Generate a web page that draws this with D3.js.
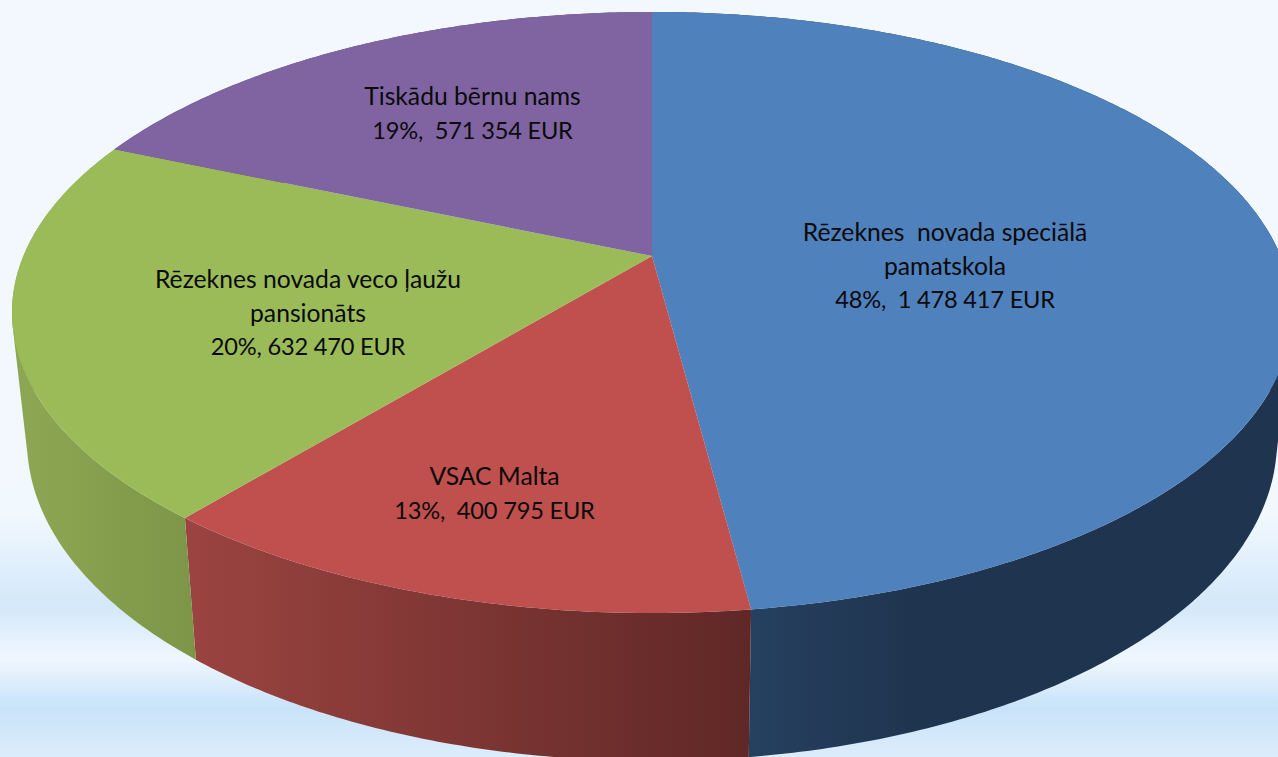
<!DOCTYPE html>
<html>
<head>
<meta charset="utf-8">
<script src="https://cdn.jsdelivr.net/npm/d3@7"></script>
<style>
html, body { margin: 0; padding: 0; overflow: hidden; }
svg { display: block; }
text { font-family: Lato, "Open Sans", sans-serif; font-size: 24.7px; fill: #0a0a0a; white-space: pre; }
.summa { font-size: 23.6px; letter-spacing: -0.2px; }
</style>
</head>
<body>
<div id="grafico"></div>
<script>
// Dati
const categorijas = ["Rēzeknes novada speciālā pamatskola", "VSAC Malta", "Rēzeknes novada veco ļaužu pansionāts", "Tiskādu bērnu nams"];
const vertibas = [1478417, 400795, 632470, 571354];
const rindas = [
    ["Rēzeknes  novada speciālā", "pamatskola", "48%,  1 478 417 EUR"],
    ["VSAC Malta", "13%,  400 795 EUR"],
    ["Rēzeknes novada veco ļaužu", "pansionāts", "20%, 632 470 EUR"],
    ["Tiskādu bērnu nams", "19%,  571 354 EUR"]
];

// Izskats
const krasasVirsma = ["#4f81bd", "#c0504d", "#9bbb59", "#8064a2"];
const krasasSans = [["#264060", "#1f344e"], ["#9a4340", "#5f2826"], ["#8ca653", "#7c9547"], ["#5f4a7a", "#5f4a7a"]];
const etiketesX = [945, 494.5, 308, 472.5];
const etiketesY = [241, 485, 288, 105];
const rindstarpa = 33.5;

const platums = 1278;
const augstums = 757;

const svg = d3.select("#grafico")
    .append("svg")
    .attr("width", platums)
    .attr("height", augstums);

const defs = svg.append("defs");

// Fons ar gaišām zilām joslām apakšā
const fons = defs.append("linearGradient")
    .attr("id", "fons")
    .attr("x1", 0).attr("y1", 0).attr("x2", 0).attr("y2", 1);
[[0, "#f3f8ff"], [0.68, "#f1f8fe"], [0.8, "#d3e8fa"], [0.87, "#f0f7fe"], [0.935, "#c8e3f9"], [1, "#dcedfb"]]
    .forEach(d => fons.append("stop").attr("offset", d[0]).attr("stop-color", d[1]));

svg.append("rect")
    .attr("width", platums)
    .attr("height", augstums)
    .attr("fill", "url(#fons)");

// Perspektīva: diska punkts (u, v) uz ekrāna
const centrsX = 652, centrsY = 256;
const persp = -0.188;

function virsma(a) {
    const u = Math.sin(a), v = -Math.cos(a);
    const w = 1 + persp * v;
    return [centrsX + 628.6 * u / w, (241.8 * v + centrsY) / w];
}

// Apakšējais disks: elipse ar centru (652, 441), rx 625, ry 320
function apaksa(a) {
    const u = Math.sin(a), v = -Math.cos(a);
    const w = 1 + persp * v;
    return [centrsX + 613.8 * u / w, (237.1 * v + 380.8) / w];
}

function loks(f, a0, a1) {
    const n = Math.max(2, Math.ceil(Math.abs(a1 - a0) / 0.01));
    return d3.range(n + 1).map(i => f(a0 + (a1 - a0) * i / n));
}

// Siena no mazām četrstūru joslām, lai aizpildītu arī malu starp diskiem
function siena(d) {
    const aug = loks(virsma, d.startAngle, d.endAngle);
    const apa = loks(apaksa, d.startAngle, d.endAngle);
    return d3.range(aug.length - 1).map(i => {
        const q = [aug[i], aug[i + 1], apa[i + 1], apa[i]];
        if (d3.polygonArea(q) < 0) q.reverse();
        return linija(q) + "Z";
    }).join("");
}

const pie = d3.pie().sort(null).value(d => d);
const dalas = pie(vertibas);
const linija = d3.line();

// Sānu sienas
dalas.forEach((d, i) => {
    defs.append("linearGradient")
        .attr("id", "sans" + i)
        .attr("gradientUnits", "userSpaceOnUse")
        .attr("x1", i === 0 ? 750 : i === 1 ? 198 : 30).attr("y1", 0)
        .attr("x2", i === 0 ? 920 : i === 1 ? 750 : 198).attr("y2", 0)
        .call(g => {
            g.append("stop").attr("offset", 0).attr("stop-color", krasasSans[i][0]);
            g.append("stop").attr("offset", 1).attr("stop-color", krasasSans[i][1]);
        });
});

svg.append("g")
    .selectAll("path")
    .data(dalas)
    .enter()
    .append("path")
    .attr("fill", (d, i) => `url(#sans${i})`)
    .attr("d", siena);

// Augšējā virsma
svg.append("g")
    .selectAll("path")
    .data(dalas)
    .enter()
    .append("path")
    .attr("fill", (d, i) => krasasVirsma[i])
    .attr("d", d => linija([[centrsX, centrsY]].concat(loks(virsma, d.startAngle, d.endAngle))) + "Z");

// Etiķetes
const etiketes = svg.append("g")
    .selectAll("text")
    .data(rindas)
    .enter()
    .append("text")
    .attr("text-anchor", "middle")
    .attr("y", (d, i) => etiketesY[i]);

etiketes.selectAll("tspan")
    .data((d, i) => d.map((t, j) => ({ t: t, i: i, pedeja: j === d.length - 1 })))
    .enter()
    .append("tspan")
    .attr("class", d => d.pedeja ? "summa" : null)
    .attr("x", d => etiketesX[d.i])
    .attr("dy", (d, j) => j === 0 ? 0 : rindstarpa)
    .text(d => d.t);
</script>
</body>
</html>
